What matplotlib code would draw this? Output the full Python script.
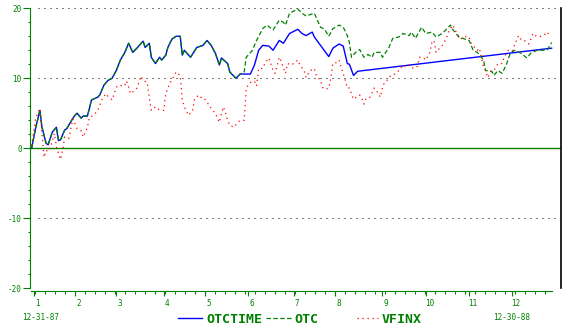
import matplotlib
matplotlib.use("Agg")
import matplotlib.pyplot as plt
import numpy as np
from matplotlib.lines import Line2D
from matplotlib.transforms import ScaledTranslation

# x = trading day of 1988 (0 = 12-31-87), y = % change
# OTCTIME and OTC run together until early May
joint_days = [0, 2, 4, 5, 7, 8, 10, 12, 13, 14,
              16, 17, 20, 21, 22, 24, 25, 27, 28, 29,
              32, 33, 35, 37, 39, 41, 43, 45, 47, 49,
              51, 54, 55, 57, 58, 60, 62, 63, 65, 66,
              68, 70, 72, 73, 74, 77, 80, 83, 85, 87,
              89, 91, 92, 95, 96, 99, 101]
joint_pct = [0.0, 3.0, 5.4, 3.0, 0.7, 0.5, 2.3, 3.0, 1.1, 1.2,
             2.6, 2.8, 4.3, 4.7, 5.0, 4.3, 4.6, 4.6, 5.7, 6.9,
             7.3, 7.6, 9.0, 9.7, 10.0, 11.1, 12.6, 13.6, 15.0, 13.7,
             14.3, 15.3, 14.4, 15.0, 13.0, 12.1, 13.0, 12.6, 13.3, 14.4,
             15.6, 16.0, 16.0, 13.3, 14.0, 13.0, 14.4, 14.7, 15.4, 14.7,
             13.6, 11.9, 12.9, 12.1, 10.9, 10.0, 10.6]

otctime_days = [106, 108, 110, 112, 115, 117, 120, 122, 125, 129,
                131, 133, 136, 137, 140, 141, 144, 146, 149, 151,
                153, 154, 156, 158, 252]
otctime_pct = [10.6, 11.9, 14.0, 14.7, 14.6, 14.0, 15.4, 15.0, 16.4, 17.0,
               16.4, 16.1, 16.6, 15.9, 14.7, 14.3, 13.1, 14.3, 14.9, 14.6,
               12.1, 12.0, 10.4, 11.0, 14.3]

otc_days = [103, 104, 107, 109, 112, 114, 117, 120, 122, 123,
            125, 129, 131, 133, 137, 138, 140, 142, 144, 146,
            149, 151, 153, 154, 155, 157, 159, 161, 163, 165,
            166, 169, 170, 173, 175, 178, 180, 183, 184, 186,
            189, 191, 194, 196, 199, 200, 203, 204, 207, 209,
            212, 214, 216, 219, 220, 223, 224, 226, 228, 230,
            232, 234, 237, 240, 242, 245, 248, 250, 252]
otc_pct = [10.9, 13.0, 14.0, 15.4, 17.1, 17.6, 16.9, 18.3, 18.0, 17.6,
           19.3, 19.9, 19.3, 18.9, 19.3, 18.6, 17.3, 17.0, 16.0, 17.1,
           17.6, 17.3, 16.1, 15.1, 13.0, 13.7, 14.1, 13.0, 13.4, 13.0,
           13.7, 13.7, 13.0, 14.3, 15.7, 15.9, 16.4, 16.1, 16.6, 15.7,
           17.3, 16.4, 16.6, 15.9, 16.4, 16.7, 17.6, 17.0, 15.9, 15.7,
           15.4, 14.0, 13.7, 12.6, 11.1, 11.0, 10.4, 11.1, 10.7, 11.9,
           13.6, 14.0, 13.6, 12.9, 13.6, 14.0, 14.0, 14.1, 15.1]

vfinx_days = [0, 2, 4, 5, 6, 7, 8, 10, 11, 12,
              14, 15, 16, 18, 20, 22, 24, 25, 27, 28,
              30, 32, 34, 36, 37, 39, 41, 42, 45, 46,
              48, 50, 51, 53, 54, 56, 57, 58, 60, 61,
              64, 65, 67, 69, 70, 72, 73, 74, 76, 78,
              79, 81, 83, 84, 87, 89, 91, 92, 93, 95,
              96, 98, 100, 101, 103, 104, 106, 108, 109, 110,
              112, 113, 115, 117, 118, 120, 121, 123, 124, 126,
              129, 130, 132, 133, 135, 137, 138, 140, 141, 142,
              144, 145, 146, 147, 149, 150, 152, 153, 154, 156,
              158, 159, 160, 161, 162, 164, 166, 167, 169, 170,
              171, 173, 174, 176, 178, 180, 182, 183, 185, 187,
              188, 190, 191, 193, 194, 195, 196, 198, 199, 201,
              202, 204, 205, 206, 208, 209, 211, 212, 213, 215,
              216, 217, 218, 219, 220, 221, 223, 224, 226, 228,
              229, 231, 233, 234, 235, 236, 237, 238, 240, 241,
              243, 244, 246, 248, 250, 251]
vfinx_pct = [0.4, 4.4, 5.7, 2.1, -1.3, -0.3, -0.5, 0.9, 2.1, 0.2,
             -1.6, -0.3, 1.6, 1.4, 4.2, 2.8, 2.5, 1.6, 3.0, 4.4,
             4.7, 5.4, 6.9, 7.8, 7.4, 6.9, 8.7, 9.0, 8.9, 9.6,
             7.8, 8.3, 8.6, 10.3, 9.7, 9.4, 7.3, 5.4, 5.9, 5.6,
             5.4, 7.8, 9.3, 10.3, 10.9, 10.4, 6.9, 5.9, 4.7, 5.4,
             7.1, 7.6, 7.0, 7.0, 5.7, 5.0, 3.7, 5.0, 5.9, 4.0,
             3.3, 3.0, 3.7, 4.0, 4.0, 8.6, 9.4, 9.6, 8.9, 11.4,
             11.4, 12.1, 12.9, 11.1, 10.7, 13.0, 12.4, 10.7, 12.1, 11.9,
             12.6, 11.9, 11.1, 10.1, 11.1, 11.4, 10.4, 9.7, 8.7, 8.4,
             8.6, 10.0, 12.1, 12.1, 12.6, 11.6, 9.7, 8.6, 8.6, 7.0,
             7.4, 7.6, 7.1, 6.3, 7.1, 7.3, 8.6, 8.3, 7.3, 8.7,
             9.4, 9.9, 10.4, 10.6, 11.1, 11.9, 11.6, 11.9, 11.4, 11.7,
             13.0, 12.9, 12.6, 13.7, 15.1, 15.4, 13.7, 14.4, 14.7, 15.7,
             16.6, 17.6, 17.1, 16.4, 15.6, 15.9, 16.0, 15.9, 15.0, 14.3,
             14.0, 14.3, 12.9, 11.6, 11.1, 10.1, 11.1, 11.1, 12.1, 12.1,
             13.0, 14.0, 13.9, 14.7, 15.4, 16.1, 15.6, 15.6, 15.1, 14.9,
             16.4, 16.1, 15.9, 16.1, 16.6, 15.9]

month_days = [1, 21, 41, 64, 84, 105, 127, 147, 170, 191, 212, 233]
month_labels = ["1", "2", "3", "4", "5", "6", "7", "8", "9", "10", "11", "12"]
y_ticks = [-20, -10, 0, 10, 20]
y_labels = ["-20", "-10", "0", "10", "20"]

GREEN = "#008000"
BLUE = "#0000ff"
RED = "#ff0000"
MONO = "DejaVu Sans Mono"

W, H = 570, 333
fig = plt.figure(figsize=(W / 100, H / 100), dpi=100)
ax = fig.add_axes([30 / W, 1 - 291 / H, (560.7 - 30) / W, (291 - 8) / H])
ax.set_xlim(-0.8, 256.4)
ax.set_ylim(-20.4, 20.04)

# reference lines
for v in [20, 10, -10]:
    ax.axhline(v, xmin=0.015, xmax=0.99, color="black", lw=0.72, ls=(0, (1, 5)))
ax.axhline(0, color=GREEN, lw=1.0)

otctime_x = joint_days + otctime_days
otctime_y = joint_pct + otctime_pct
otc_x = joint_days + otc_days
otc_y = joint_pct + otc_pct

ax.plot(otctime_x, otctime_y, color=BLUE, lw=1.0)
ax.plot(otc_x, otc_y, color=GREEN, lw=0.9, ls=(0, (3.5, 2)))
ax.plot(vfinx_days, vfinx_pct, color=RED, lw=0.9, ls=(0, (1, 3)))

# spines
ax.spines["top"].set_visible(False)
ax.spines["left"].set_color(GREEN)
ax.spines["left"].set_bounds(-20, 20)
ax.spines["bottom"].set_color(GREEN)
ax.spines["bottom"].set_bounds(-0.5, 252)
ax.spines["right"].set_color("black")
ax.spines["right"].set_linewidth(1.2)
ax.spines["right"].set_bounds(-20, 20)

# y axis
ax.set_yticks(y_ticks)
ax.set_yticklabels(y_labels, family=MONO)
ax.set_yticks([v for v in range(-20, 21, 2) if v % 10], minor=True)
ax.tick_params(axis="y", which="major", length=5, width=0.8, color=GREEN,
               labelcolor=GREEN, labelsize=5.5, pad=1)
ax.tick_params(axis="y", which="minor", length=1.8, width=0.8, color=GREEN)

# x axis
ax.set_xticks(month_days)
ax.set_xticklabels(month_labels, family=MONO)
ax.set_xticks(np.arange(1.6, 252, 4.85), minor=True)
ax.tick_params(axis="x", which="major", length=3.6, width=0.8, color=GREEN,
               labelcolor=GREEN, labelsize=5.5, pad=2.5)
ax.tick_params(axis="x", which="minor", length=2.2, width=0.8, color=GREEN)
for lab in ax.get_xticklabels():
    lab.set_transform(lab.get_transform() + ScaledTranslation(0.035, 0, fig.dpi_scale_trans))

# dates under the axis
fig.text(41 / W, 1 - 318 / H, "12-31-87", ha="center", va="center",
         family=MONO, fontsize=5.5, color=GREEN)
fig.text(512 / W, 1 - 318 / H, "12-30-88", ha="center", va="center",
         family=MONO, fontsize=5.5, color=GREEN)

# legend drawn by hand
ly = 1 - 318 / H
ty = 1 - 319.5 / H
fig.add_artist(Line2D([178 / W, 202 / W], [ly, ly], transform=fig.transFigure,
                      color=BLUE, lw=1.0))
fig.text(206 / W, ty, "OTCTIME", ha="left", va="center", family=MONO,
         fontweight="bold", fontsize=9.5, color=GREEN)
fig.add_artist(Line2D([266 / W, 292 / W], [ly, ly], transform=fig.transFigure,
                      color=GREEN, lw=0.9, ls=(0, (3.5, 2))))
fig.text(294 / W, ty, "OTC", ha="left", va="center", family=MONO,
         fontweight="bold", fontsize=9.5, color=GREEN)
fig.add_artist(Line2D([357 / W, 378 / W], [ly, ly], transform=fig.transFigure,
                      color=RED, lw=0.9, ls=(0, (1, 3))))
fig.text(382 / W, ty, "VFINX", ha="left", va="center", family=MONO,
         fontweight="bold", fontsize=9.5, color=GREEN)

fig.savefig("out.png", dpi=100)
